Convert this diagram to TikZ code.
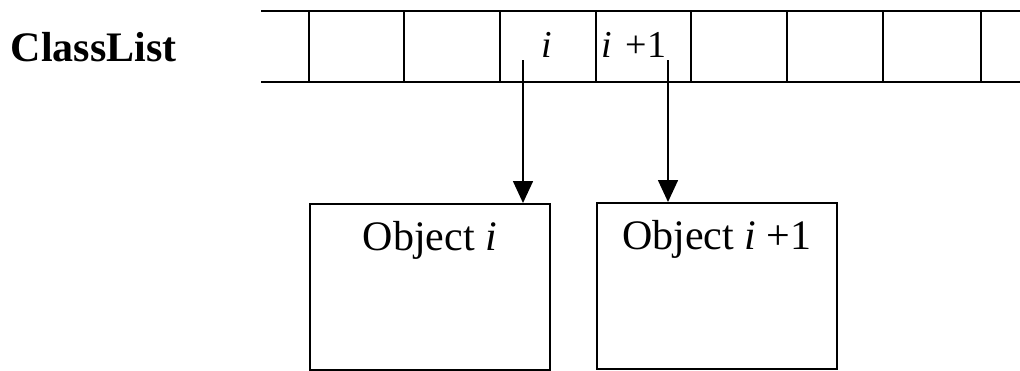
\documentclass[tikz,border=0pt]{standalone}
\usepackage{fontspec}
\setmainfont{Liberation Serif}
\usetikzlibrary{positioning,arrows.meta}

\begin{document}
\begin{tikzpicture}[
        x=1pt,
        y=-1pt,
        line width=1.6pt,
        title/.style={
          font=\fontsize{42}{48}\selectfont\bfseries,
          anchor=base west,
          inner sep=0pt
          },
        cell/.style={
          font=\fontsize{38}{44}\selectfont,
          anchor=base,
          inner sep=0pt
          },
        obj/.style={
          draw,
          rectangle,
          minimum width=240pt,
          minimum height=166pt,
          anchor=north west,
          inner sep=0pt
          },
        objtext/.style={
          font=\fontsize{42}{48}\selectfont,
          anchor=base,
          inner sep=0pt
          },
        >={Triangle[length=22pt,width=20pt]}
        ]
        \useasboundingbox (0,0) rectangle (1020,370);
        % the list strip
        \draw (261,11) -- (1020,11);
        \draw (261,82) -- (1020,82);
        \foreach \cx in {309,404,500,596,691,787,883,981}
          \draw (\cx,11) -- (\cx,82);
        \node[title] (classlist) at (10,61) {ClassList};
        \node[cell] (celli) at (547,57) {\textit{i}};
        \node[cell,anchor=base west] (cellj) at (601,57) {\textit{i}\hspace{0.35em}+1};
        \coordinate (fromi) at (523,60);
        \coordinate (fromj) at (668,60);
        % the two objects
        \node[obj] (obji) at (309,203) {};
        \node[obj] (objj) at (596,202) {};
        \node[objtext] (texti) at ([yshift=-47pt]obji.north) {Object \textit{i}};
        \node[objtext] (textj) at ([yshift=-47pt]objj.north) {Object \textit{i} +1};
        \draw[->] (fromi) -- (fromi |- obji.north);
        \draw[->] (fromj) -- (fromj |- objj.north);
\end{tikzpicture}
\end{document}
